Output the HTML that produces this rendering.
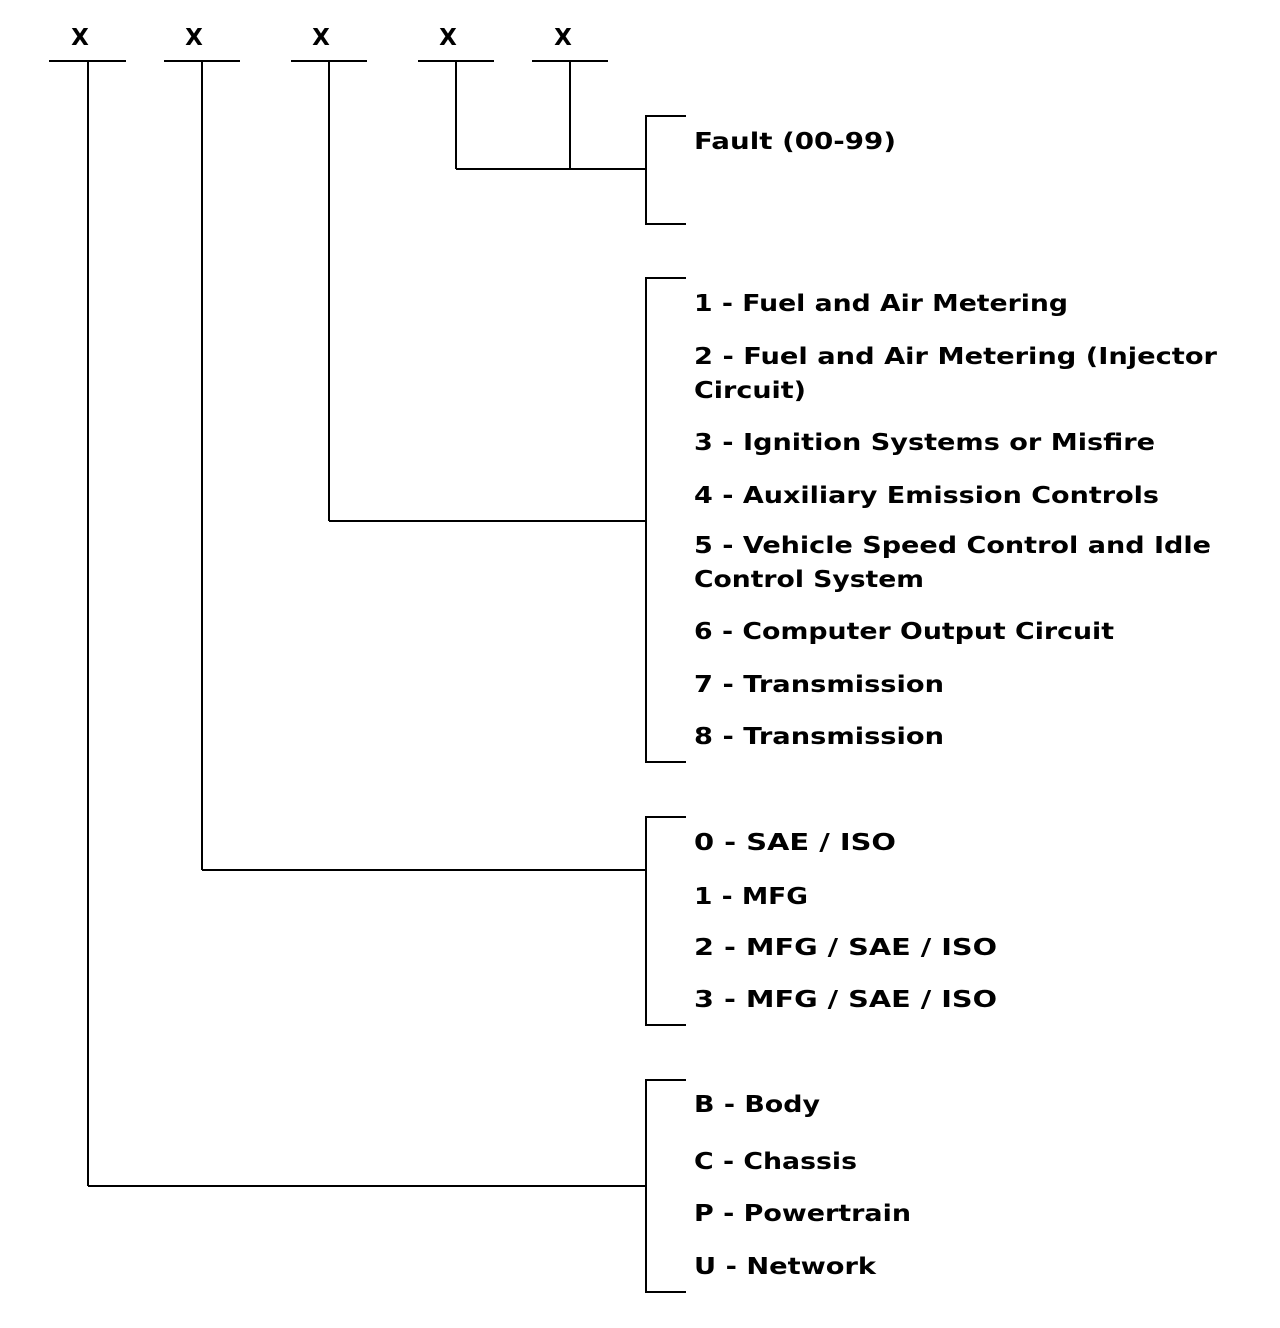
<!DOCTYPE html>
<html><head><meta charset="utf-8"><style>
html,body{margin:0;padding:0;background:#fff;}
svg{display:block;}
text{font-family:"DejaVu Sans","Liberation Sans",sans-serif;font-weight:bold;font-size:23px;fill:#000;}
</style></head><body>
<svg width="1280" height="1328" viewBox="0 0 1280 1328" xmlns="http://www.w3.org/2000/svg">
<g stroke="#000" stroke-width="2" fill="none">
<line x1="49" y1="61" x2="126" y2="61"/>
<line x1="164" y1="61" x2="240" y2="61"/>
<line x1="291" y1="61" x2="367" y2="61"/>
<line x1="418" y1="61" x2="494" y2="61"/>
<line x1="532" y1="61" x2="608" y2="61"/>
<line x1="88" y1="61" x2="88" y2="1186"/>
<line x1="202" y1="61" x2="202" y2="870"/>
<line x1="329" y1="61" x2="329" y2="521"/>
<line x1="456" y1="61" x2="456" y2="169"/>
<line x1="570" y1="61" x2="570" y2="169"/>
<line x1="456" y1="169" x2="646" y2="169"/>
<line x1="329" y1="521" x2="646" y2="521"/>
<line x1="202" y1="870" x2="646" y2="870"/>
<line x1="88" y1="1186" x2="646" y2="1186"/>
<polyline points="686,116 646,116 646,224 686,224"/>
<polyline points="686,278 646,278 646,762 686,762"/>
<polyline points="686,817 646,817 646,1025 686,1025"/>
<polyline points="686,1080 646,1080 646,1292 686,1292"/>
</g>
<g text-anchor="middle">
<text x="80" y="45">X</text>
<text x="194" y="45">X</text>
<text x="321" y="45">X</text>
<text x="448" y="45">X</text>
<text x="563" y="45">X</text>
</g>
<g lengthAdjust="spacingAndGlyphs">
<text x="694" y="149" textLength="202" lengthAdjust="spacingAndGlyphs">Fault (00-99)</text>
<text x="694" y="311" textLength="374" lengthAdjust="spacingAndGlyphs">1 - Fuel and Air Metering</text>
<text x="694" y="364" textLength="523" lengthAdjust="spacingAndGlyphs">2 - Fuel and Air Metering (Injector</text>
<text x="694" y="398" textLength="112" lengthAdjust="spacingAndGlyphs">Circuit)</text>
<text x="694" y="450" textLength="461" lengthAdjust="spacingAndGlyphs">3 - Ignition Systems or Misfire</text>
<text x="694" y="503" textLength="465" lengthAdjust="spacingAndGlyphs">4 - Auxiliary Emission Controls</text>
<text x="694" y="553" textLength="517" lengthAdjust="spacingAndGlyphs">5 - Vehicle Speed Control and Idle</text>
<text x="694" y="587" textLength="230" lengthAdjust="spacingAndGlyphs">Control System</text>
<text x="694" y="639" textLength="420" lengthAdjust="spacingAndGlyphs">6 - Computer Output Circuit</text>
<text x="694" y="692" textLength="250" lengthAdjust="spacingAndGlyphs">7 - Transmission</text>
<text x="694" y="744" textLength="250" lengthAdjust="spacingAndGlyphs">8 - Transmission</text>
<text x="694" y="850" textLength="202" lengthAdjust="spacingAndGlyphs">0 - SAE / ISO</text>
<text x="694" y="904" textLength="114" lengthAdjust="spacingAndGlyphs">1 - MFG</text>
<text x="694" y="955" textLength="303" lengthAdjust="spacingAndGlyphs">2 - MFG / SAE / ISO</text>
<text x="694" y="1007" textLength="303" lengthAdjust="spacingAndGlyphs">3 - MFG / SAE / ISO</text>
<text x="694" y="1112" textLength="126" lengthAdjust="spacingAndGlyphs">B - Body</text>
<text x="694" y="1169" textLength="163" lengthAdjust="spacingAndGlyphs">C - Chassis</text>
<text x="694" y="1221" textLength="217" lengthAdjust="spacingAndGlyphs">P - Powertrain</text>
<text x="694" y="1274" textLength="182" lengthAdjust="spacingAndGlyphs">U - Network</text>
</g>
</svg>
</body></html>
